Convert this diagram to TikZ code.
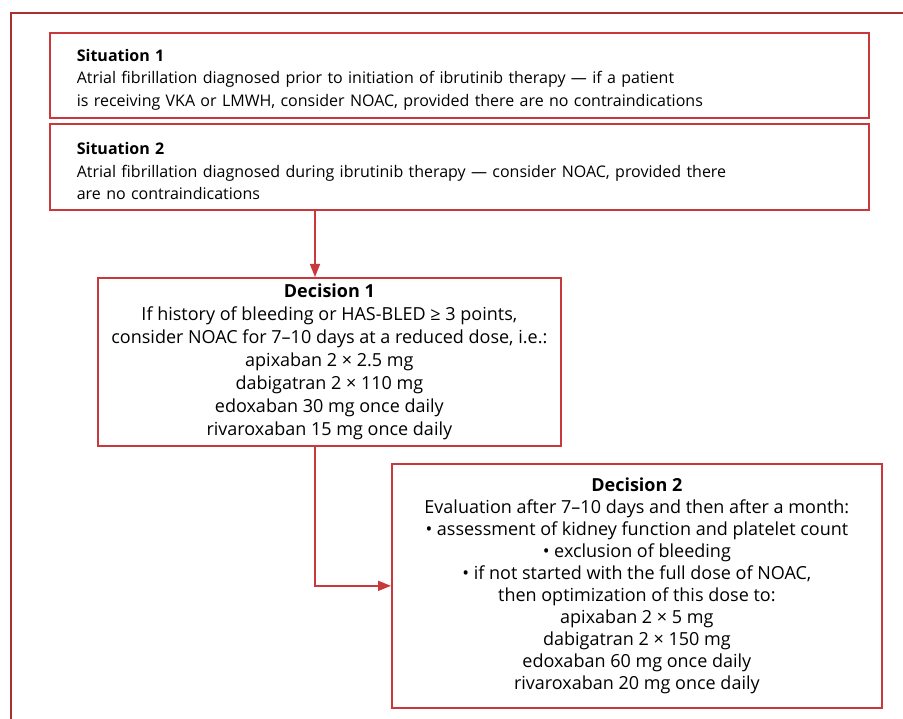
\documentclass[tikz,border=0pt]{standalone}
\usepackage{fontspec}
\setmainfont{Open Sans}
\usetikzlibrary{arrows.meta}
\definecolor{frred}{RGB}{200,56,60}
\newcommand\topstrut{\rule{0pt}{21pt}}
\begin{document}
\begin{tikzpicture}[x=1pt,y=-1pt,font=\fontsize{16}{22.5}\selectfont,
	box/.style={draw=frred,line width=1.7pt,inner ysep=0pt},
	sitbox/.style={box,anchor=north west,minimum width=819pt,inner xsep=27pt,text width=765pt,align=left},
	decbox/.style={box,anchor=north west,align=center,font=\fontsize{18}{23}\selectfont},
	link/.style={draw=frred,line width=1.7pt,-{Triangle[length=13pt,width=10pt]}}]
	\useasboundingbox (0,0) rectangle (903,719);
	% frame
	\draw[frred!85!black,line width=2pt] (903,13)--(11,13)--(11,719);
	\node[sitbox,minimum height=85pt] (sit1) at (49,32) {\topstrut\textbf{Situation 1}\\
		Atrial fibrillation diagnosed prior to initiation of ibrutinib therapy --- if a patient\\
		is receiving VKA or LMWH, consider NOAC, provided there are no contraindications};
	\node[sitbox,minimum height=86pt] (sit2) at (49,123) {\topstrut\textbf{Situation 2}\\
		Atrial fibrillation diagnosed during ibrutinib therapy --- consider NOAC, provided there\\
		are no contraindications};
	\node[decbox,minimum width=463pt,minimum height=168pt] (dec1) at (97,277) {\textbf{Decision 1}\\
		If history of bleeding or HAS-BLED ≥ 3 points,\\
		consider NOAC for 7--10 days at a reduced dose, i.e.:\\
		apixaban 2 × 2.5 mg\\
		dabigatran 2 × 110 mg\\
		edoxaban 30 mg once daily\\
		rivaroxaban 15 mg once daily};
	\node[decbox,font=\fontsize{18}{22}\selectfont,minimum width=490pt,minimum height=244pt] (dec2) at (391,463) {\textbf{Decision 2}\\
		Evaluation after 7--10 days and then after a month:\\
		• assessment of kidney function and platelet count\\
		• exclusion of bleeding\\
		• if not started with the full dose of NOAC,\\
		then optimization of this dose to:\\
		apixaban 2 × 5 mg\\
		dabigatran 2 × 150 mg\\
		edoxaban 60 mg once daily\\
		rivaroxaban 20 mg once daily};
	\coordinate (tap) at (315,0);
	\draw[link] (tap |- sit2.south) -- (tap |- dec1.north);
	\draw[link] (tap |- dec1.south) |- (dec2.west);
\end{tikzpicture}
\end{document}
